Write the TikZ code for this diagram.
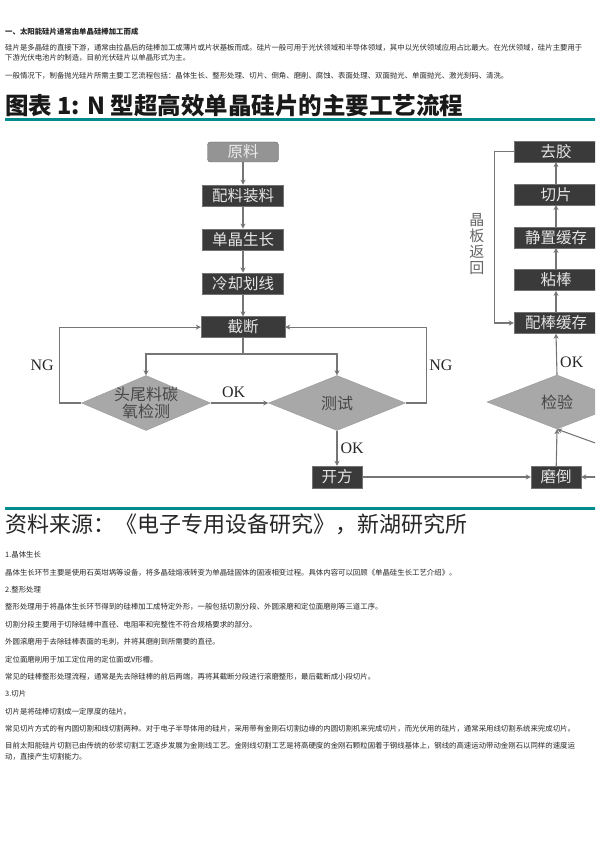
\documentclass[tikz,border=0pt]{standalone}
\usepackage{fontspec}
\setmainfont{Noto Sans CJK SC}
\newfontfamily\okfont{Liberation Serif}
\usepackage{xcolor}
\usepackage{tikz}
\usetikzlibrary{positioning,arrows.meta,shapes.geometric}
\definecolor{tealbar}{RGB}{0,140,140}
\definecolor{boxdark}{RGB}{58,58,58}
\definecolor{linegray}{RGB}{118,118,118}
\definecolor{diagray}{RGB}{168,168,168}

\begin{document}
\begin{tikzpicture}[x=1pt, y=-1pt, >={Stealth[length=5pt,width=5pt,inset=1.5pt]},
  body/.style={anchor=west, inner sep=0pt, text=black!85, font=\fontsize{7.4}{9}\selectfont},
  procbox/.style={draw=black!55, fill=boxdark, text=white!90!black, inner sep=1pt,
    minimum height=21pt, font=\fontsize{15.5}{16}\selectfont},
  decide/.style={diamond, draw=black!40, fill=diagray, inner sep=0pt},
  dtext/.style={text=black!72, align=center, inner sep=0pt, font=\fontsize{16}{17}\selectfont},
  flow/.style={->, draw=linegray, line width=1.1pt},
  okng/.style={inner sep=0pt, text=black!85, font=\okfont\fontsize{16}{16}\selectfont}]
  \clip (0,0) rectangle (595,842);
  % page text above the figure
  \node[body, font=\bfseries\fontsize{7.4}{9}\selectfont] (head) at (5,32) {一、太阳能硅片通常由单晶硅棒加工而成};
  \node[body] (p1a) at (5,48) {硅片是多晶硅的直接下游，通常由拉晶后的硅棒加工成薄片或片状基板而成。硅片一般可用于光伏领域和半导体领域，其中以光伏领域应用占比最大。在光伏领域，硅片主要用于};
  \node[body] (p1b) at (5,58) {下游光伏电池片的制造，目前光伏硅片以单晶形式为主。};
  \node[body] (p2) at (5,76) {一般情况下，制备抛光硅片所需主要工艺流程包括：晶体生长、整形处理、切片、倒角、磨削、腐蚀、表面处理、双面抛光、单面抛光、激光刻码、清洗。};
  % figure title and bars
  \node[body, text=black!90, font=\bfseries\fontsize{23.5}{25}\selectfont] (title) at (5,106) {图表 1: N 型超高效单晶硅片的主要工艺流程};
  \draw[tealbar, line width=3pt] (5,120) -- (600,120);
  \draw[tealbar, line width=3pt] (5,508) -- (600,508);
  \node[body, font=\fontsize{22}{24}\selectfont] (src) at (5,524) {资料来源：《电子专用设备研究》，新湖研究所};
  % left column
  \node[procbox, rounded corners=3pt, fill=black!42, draw=black!60, text=black!8,
    minimum width=71pt, minimum height=20pt] (yl) at (243,152) {原料};
  \node[procbox, minimum width=81pt, below=22.5pt of yl] (pl) {配料装料};
  \node[procbox, minimum width=81pt, below=22.5pt of pl] (dj) {单晶生长};
  \node[procbox, minimum width=81pt, below=22.5pt of dj] (lq) {冷却划线};
  \node[procbox, minimum width=84pt, below=22.5pt of lq] (jd) {截断};
  \foreach \a/\b in {yl/pl, pl/dj, dj/lq, lq/jd}
    \draw[flow] (\a) -- (\b);
  % the two checks
  \node[decide, minimum width=129pt, minimum height=55pt] (tail) at (146,403) {};
  \node[dtext] (tailtxt) at (tail) {头尾料碳\\氧检测};
  \node[decide, minimum width=137pt, minimum height=55pt] (test) at (337,403) {};
  \node[dtext] (testtxt) at (test) {测试};
  \coordinate (split) at (243,354);
  \draw[flow, -] (jd) -- (split);
  \draw[flow] (split) -| (tail.north);
  \draw[flow] (split) -| (test.north);
  \draw[flow] (tail.east) -- node[okng, pos=0.4, above=5pt] (ok1) {OK} (test.west);
  \draw[flow] (tail.west) -- ++(-22,0) |- node[okng, pos=0.25, left=5pt] (ng1) {NG} (jd.west);
  \draw[flow] (test.east) -- ++(21,0) |- node[okng, pos=0.25, right=2pt] (ng2) {NG} (jd.east);
  % bottom row
  \node[procbox, minimum width=50pt, minimum height=22pt] (kf) at (337,477) {开方};
  \node[procbox, minimum width=50pt, minimum height=22pt] (md) at (556,477) {磨倒};
  \node[decide, minimum width=140pt, minimum height=54pt] (jy) at (557,402) {};
  \node[dtext] (jytxt) at (jy) {检验};
  \draw[flow] (test.south) -- node[okng, right=3pt] (ok2) {OK} (kf.north);
  \draw[flow] (kf) -- (md);
  \coordinate (rin) at (600,477);
  \coordinate (din) at (600,444.7);
  \draw[flow] (rin) -- (md.east);
  \draw[flow] (md) -- (jy.south);
  \draw[flow] (din) -- (jy.south);
  % right column, bottom to top
  \node[procbox, minimum width=84pt] (pbhc) at (556,323) {配棒缓存};
  \node[procbox, minimum width=84pt, above=21.5pt of pbhc] (nb) {粘棒};
  \node[procbox, minimum width=84pt, above=21.5pt of nb] (jz) {静置缓存};
  \node[procbox, minimum width=84pt, above=21.5pt of jz] (qp) {切片};
  \node[procbox, minimum width=84pt, above=21.5pt of qp] (qj) {去胶};
  \draw[flow] (jy.north) -- node[okng, pos=0.31, right=3pt] (ok3) {OK} (pbhc.south);
  \foreach \a/\b in {pbhc/nb, nb/jz, jz/qp, qp/qj}
    \draw[flow] (\a) -- (\b);
  \draw[flow] (qj.west) -- ++(-19,0) |- node[pos=0.27, left=10pt, dtext, text=black!60,
    font=\fontsize{15}{16}\selectfont] (back) {晶\\板\\返\\回} (pbhc.west);
  % page text below the figure
  \node[body] (t1) at (5,555) {1.晶体生长};
  \node[body] (t2) at (5,573) {晶体生长环节主要是使用石英坩埚等设备，将多晶硅熔液转变为单晶硅固体的固液相变过程。具体内容可以回顾《单晶硅生长工艺介绍》。};
  \node[body] (t3) at (5,590) {2.整形处理};
  \node[body] (t4) at (5,607) {整形处理用于将晶体生长环节得到的硅棒加工成特定外形，一般包括切割分段、外圆滚磨和定位面磨削等三道工序。};
  \node[body] (t5) at (5,625) {切割分段主要用于切除硅棒中直径、电阻率和完整性不符合规格要求的部分。};
  \node[body] (t6) at (5,642) {外圆滚磨用于去除硅棒表面的毛刺，并将其磨削到所需要的直径。};
  \node[body] (t7) at (5,660) {定位面磨削用于加工定位用的定位面或V形槽。};
  \node[body] (t8) at (5,677) {常见的硅棒整形处理流程，通常是先去除硅棒的前后两端，再将其截断分段进行滚磨整形，最后截断成小段切片。};
  \node[body] (t9) at (5,694) {3.切片};
  \node[body] (t10) at (5,712) {切片是将硅棒切割成一定厚度的硅片。};
  \node[body] (t11) at (5,729) {常见切片方式的有内圆切割和线切割两种。对于电子半导体用的硅片，采用带有金刚石切割边缘的内圆切割机来完成切片，而光伏用的硅片，通常采用线切割系统来完成切片。};
  \node[body] (t12) at (5,746) {目前太阳能硅片切割已由传统的砂浆切割工艺逐步发展为金刚线工艺。金刚线切割工艺是将高硬度的金刚石颗粒固着于钢线基体上，钢线的高速运动带动金刚石以同样的速度运};
  \node[body] (t13) at (5,757) {动，直接产生切割能力。};
\end{tikzpicture}
\end{document}
